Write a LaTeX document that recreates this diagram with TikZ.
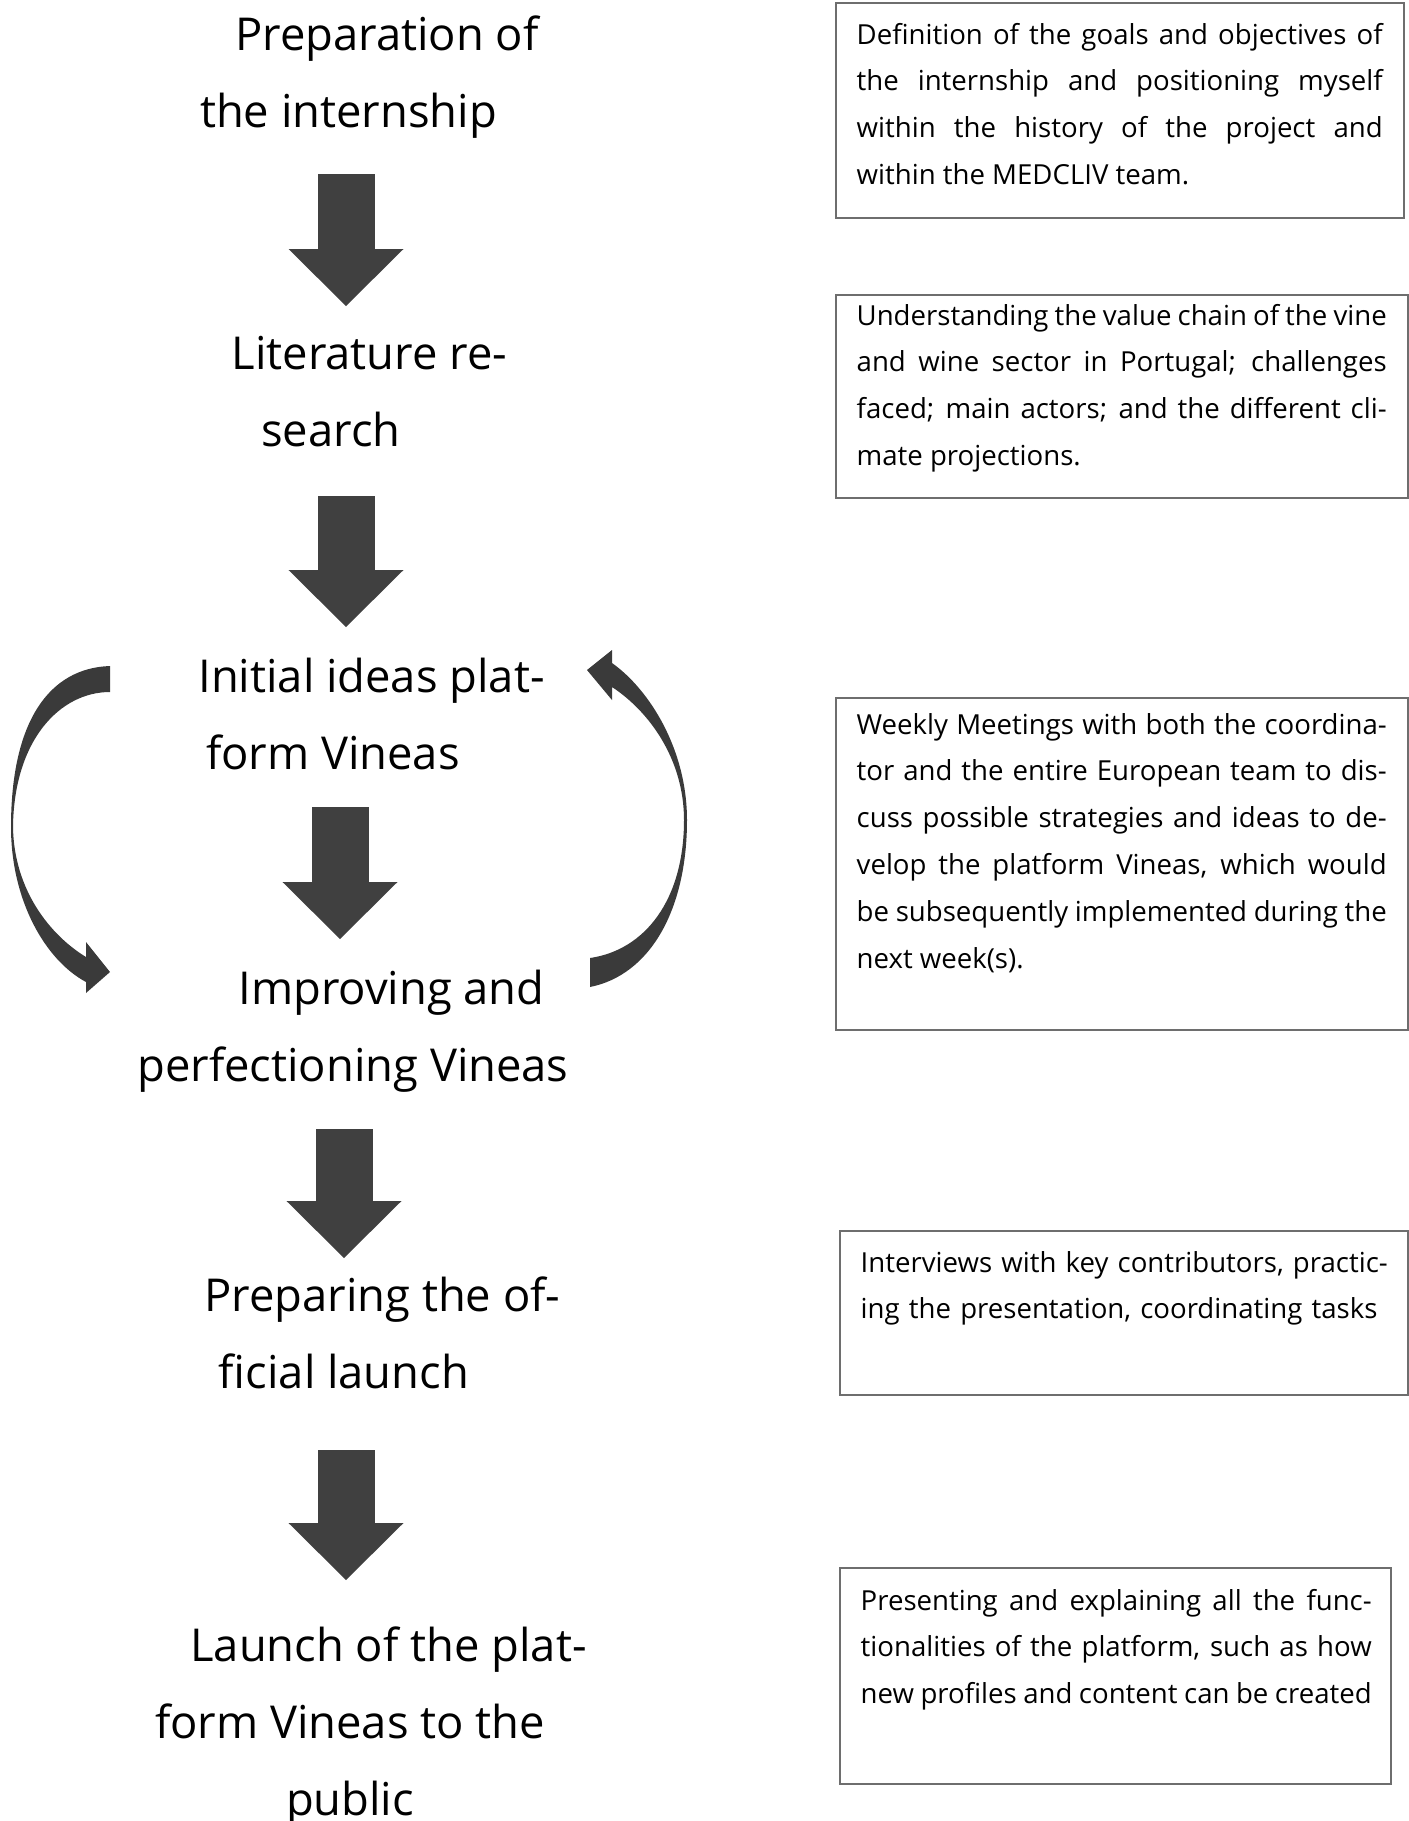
\documentclass[tikz,border=0pt]{standalone}
\usepackage{fontspec}
\setmainfont{Open Sans}
\usepackage{tikz}
\usetikzlibrary{arrows.meta,positioning}
\definecolor{arrowgray}{HTML}{404040}
\definecolor{loopgray}{HTML}{3A3A3A}
\definecolor{framegray}{HTML}{6E6E6E}

\begin{document}
\begin{tikzpicture}[
  steptext/.style={font=\fontsize{12.9}{21.9}\selectfont, align=center, anchor=base, inner sep=0pt},
  descbox/.style={draw=framegray, line width=0.6pt, anchor=north west, inner sep=0pt},
  desctext/.style={font=\fontsize{7.85}{13.35}\selectfont, anchor=base west, inner sep=0pt,
    align=justify, text width=5.30cm},
  blockarrow/.style={line width=0.57cm, draw=arrowgray,
    -{Triangle[length=0.57cm, width=1.15cm, line width=0pt]}},
]
  \useasboundingbox (0,0) rectangle (14.09,-18.21);

  % Steps on the left (base = last line)
  \node[steptext] (prep) at (3.485,-1.27) {\hspace*{0.77cm}Preparation of\\the internship};
  \node[steptext] (lit) at (3.31,-4.46) {\hspace*{0.77cm}Literature re-\\search};
  \node[steptext] (ideas) at (3.33,-7.69) {\hspace*{0.77cm}Initial ideas plat-\\form Vineas};
  \node[steptext] (improve) at (3.53,-10.81) {\hspace*{0.77cm}Improving and\\perfectioning Vineas};
  \node[steptext] (prepare) at (3.44,-13.88) {\hspace*{0.77cm}Preparing the of-\\ficial launch};
  \node[steptext] (launch) at (3.50,-18.15) {\hspace*{0.77cm}Launch of the plat-\\form Vineas to the\\public};

  % Block arrows between the steps
  \foreach \i/\x/\ya/\yb in {1/3.46/-1.74/-3.06, 2/3.46/-4.96/-6.27, 3/3.40/-8.07/-9.39,
                             4/3.44/-11.29/-12.58, 5/3.46/-14.50/-15.80} {
    \coordinate (top\i) at (\x,\ya);
    \coordinate (tip\i) at (\x,\yb);
    \draw[blockarrow] (top\i) -- (tip\i);
  }

  % Loop between ideas and improvement (left, going down)
  \fill[loopgray] (1.10,-6.66) .. controls (0.50,-6.68) and (0.11,-7.20) .. (0.11,-8.27)
    .. controls (0.11,-9.00) and (0.45,-9.60) .. (0.86,-9.82) -- (0.86,-9.93) -- (1.10,-9.72)
    -- (0.86,-9.42) -- (0.86,-9.57) .. controls (0.50,-9.35) and (0.14,-8.90) .. (0.13,-8.27)
    .. controls (0.14,-7.40) and (0.60,-6.92) .. (1.10,-6.92) -- cycle;
  % Loop back (right, going up)
  \fill[loopgray] (5.90,-9.87) .. controls (6.50,-9.75) and (6.87,-9.10) .. (6.87,-8.20)
    .. controls (6.87,-7.50) and (6.50,-6.90) .. (6.12,-6.63) -- (6.12,-6.50) -- (5.87,-6.70)
    -- (6.12,-7.00) -- (6.12,-6.87) .. controls (6.50,-7.12) and (6.84,-7.60) .. (6.84,-8.20)
    .. controls (6.84,-9.00) and (6.45,-9.50) .. (5.90,-9.58) -- cycle;

  % Description boxes on the right
  \node[descbox, minimum width=5.68cm, minimum height=2.15cm] (goalsbox) at (8.35,-0.02) {};
  \node[descbox, minimum width=5.72cm, minimum height=2.03cm] (sectorbox) at (8.35,-2.94) {};
  \node[descbox, minimum width=5.72cm, minimum height=3.32cm] (meetbox) at (8.35,-6.97) {};
  \node[descbox, minimum width=5.68cm, minimum height=1.64cm] (taskbox) at (8.39,-12.30) {};
  \node[descbox, minimum width=5.51cm, minimum height=2.16cm] (showbox) at (8.39,-15.67) {};

  \node[desctext, text width=5.26cm] (goals) at (8.56,-0.44)
    {Definition of the goals and objectives of\linebreak the internship and positioning myself\linebreak
     within the history of the project and\linebreak within the MEDCLIV team.};
  \node[desctext] (sector) at (8.56,-3.25)
    {Understanding the value chain of the vine\linebreak and wine sector in Portugal; challenges\linebreak
     faced; main actors; and the different cli-\linebreak mate projections.};
  \node[desctext] (meet) at (8.56,-7.34)
    {Weekly Meetings with both the coordina-\linebreak tor and the entire European team to dis-\linebreak
     cuss possible strategies and ideas to de-\linebreak velop the platform Vineas, which would\linebreak
     be subsequently implemented during the\linebreak next week(s).};
  \node[desctext, align=left] (task) at (8.60,-12.72)
    {Interviews with key contributors, practic-\\ing the presentation, coordinating tasks};
  \node[desctext, text width=5.11cm] (show) at (8.60,-16.10)
    {Presenting and explaining all the func-\linebreak tionalities of the platform, such as how\linebreak
     new profiles and content can be created};
\end{tikzpicture}
\end{document}
